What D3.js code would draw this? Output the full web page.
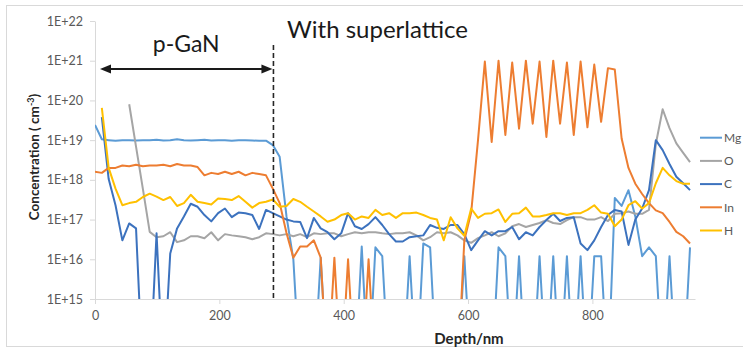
<!DOCTYPE html>
<html><head><meta charset="utf-8">
<script src="https://cdn.jsdelivr.net/npm/d3@7"></script>
<style>
html,body{margin:0;padding:0;background:#fff;}
svg{display:block;}
text{font-family:Lato,"Open Sans",sans-serif;}
</style></head><body>
<svg id="chart" width="743" height="360"></svg>
<script>
// SIMS depth profile of a p-GaN / InGaN superlattice structure (log concentration vs depth)

// depth sampling points (nm)
const depthNm = [0,11,22,33,44,55,66,77,88,99,110,121,132,143,154,165,176,187,198,209,
  220,231,242,253,264,275,286,297,308,319,330,341,352,363,374,385,396,407,418,429,
  440,451,462,473,484,495,506,517,528,539,550,561,572,583,594,605,616,627,638,649,
  660,671,682,693,704,715,726,737,748,759,770,781,792,803,814,825,836,847,858,869,
  880,891,902,913,924,935,946,957];

// concentrations (cm^-3); 1e13 marks points below the detection floor
const mgConc = [2.4e19,1.05e19,1.0e19,9.6e18,1.0e19,1.0e19,9.8e18,1.0e19,1.0e19,1.02e19,
  9.8e18,1.0e19,1.05e19,1.0e19,9.8e18,1.0e19,1.02e19,9.8e18,1.0e19,1.0e19,
  9.7e18,9.9e18,1.0e19,9.8e18,9.6e18,9.7e18,7.5e18,3.8e18,1.2e17,1.0e16,
  1e13,1e13,1e13,1.1e16,1e13,1e13,1e13,1e13,1e13,2.1e16,
  1e13,2e16,1.2e16,1e13,1e13,1e13,1.2e16,1e13,2.5e16,2e16,
  1e13,1e13,1e13,1e13,1.2e16,1e13,1e13,1e13,1e13,2e16,
  1.2e16,1e13,1.2e16,1e13,1e13,1.2e16,1e13,1.2e16,1e13,1.2e16,
  1e13,1.2e16,1e13,1.2e16,1.2e16,1e13,3.5e17,2.2e17,5.5e17,1.2e17,
  1.2e16,2e16,1.2e16,1e13,1.2e16,1e13,1e13,2e16];

const oConc = [null,null,null,null,null,8e19,6.9e18,5.9e17,4.9e16,3.6e16,
  3.8e16,4.8e16,2.7e16,3e16,3.8e16,3.8e16,3.4e16,4.8e16,3e16,4.3e16,
  4e16,3.8e16,3.6e16,3.2e16,3.6e16,4.5e16,4.3e16,4e16,4.3e16,3.8e16,
  4.3e16,3.6e16,4.5e16,4.3e16,4.5e16,4.5e16,3.8e16,4.3e16,4.8e16,4.5e16,
  4.8e16,4.8e16,4.5e16,4.3e16,4.5e16,4.5e16,4.8e16,4e16,3e16,3.6e16,
  4.8e16,4.5e16,4.8e16,4e16,3e16,2.6e16,3.4e16,4e16,4.8e16,3.8e16,
  4.5e16,6.8e16,7.7e16,6.5e16,7.3e16,8.2e16,9.7e16,8.2e16,7.7e16,9.7e16,
  1.15e17,1.15e17,1e17,1e17,1.15e17,9.2e16,1.4e17,1.45e17,1.6e17,1.4e17,
  1.4e17,1.75e17,8e18,6e19,2e19,8.3e18,4.8e18,2.8e18];

const cConc = [null,3.8e19,1.05e18,2.3e17,3e16,8e16,6e16,1e13,1e13,4.5e16,
  1e13,1.4e16,6e16,1.2e17,2.5e17,2.1e17,1.3e17,9e16,1.45e17,1.9e17,
  1.15e17,1.5e17,1.45e17,1.3e17,5.8e16,1.75e17,1.45e17,1.2e17,1e17,9e16,
  8.7e16,3.4e16,1.1e17,6e16,4.8e16,3.2e16,4.5e16,1.45e17,6.8e16,5.8e16,
  7.7e16,1.15e17,7.3e16,4.3e16,2.8e16,2.8e16,3.6e16,3.8e16,4e16,7.3e16,
  6.2e16,5.8e16,7.3e16,7.3e16,4.3e16,1.7e16,3e16,5.1e16,4e16,5.1e16,
  5.1e16,6.5e16,3.2e16,4.8e16,4e16,6.5e16,9.7e16,1.4e17,9.2e16,1.1e17,
  1.15e17,2.5e16,1.7e16,3e16,6.5e16,1.3e17,1.75e17,1.6e17,2.3e16,1e17,
  1.9e17,5.5e17,1e19,5.6e18,2.5e18,1.2e18,8.2e17,5.5e17];

const inConc = [1.6e18,1.5e18,2.0e18,2.0e18,2.3e18,2.2e18,2.4e18,2.2e18,2.3e18,2.3e18,
  2.4e18,2.2e18,2.5e18,2.3e18,2.3e18,2.1e18,1.3e18,1.5e18,1.4e18,1.6e18,
  1.4e18,1.6e18,1.3e18,1.5e18,1.4e18,1.3e18,6e17,2.6e17,4.6e16,1.1e16,
  2.1e16,2.1e16,3e16,1.1e16,1e13,1.1e16,1e13,1e16,1e13,1e13,
  1e16,1e13,1e13,1e13,1e13,1e13,1e13,1e13,1e13,1e13,
  1e13,1e13,1e13,1e13,3e16,1.5e17,1e19,9.5e20,9e18,1e21,
  1.35e19,9e20,1.95e19,1e21,2.6e19,9.5e20,1.2e19,1e21,2.6e19,9e20,
  1.35e19,9.5e20,2.1e19,8e20,2.9e19,6.5e20,6e20,1.1e19,2e18,8e17,
  4.4e17,2.6e17,1.7e17,1.45e17,8.7e16,4.9e16,3.8e16,2.5e16];

const hConc = [null,6.5e19,2e18,6e17,2.3e17,2.6e17,2.8e17,3.7e17,4.5e17,3.8e17,
  3.1e17,3.7e17,2.2e17,2.6e17,4.2e17,2.8e17,2.6e17,2.4e17,3.4e17,3.3e17,
  3.1e17,3.9e17,2.8e17,2e17,2.6e17,2.8e17,3.2e17,2.1e17,2.2e17,3.3e17,
  2.8e17,2.1e17,1.6e17,1.2e17,8.8e16,1e17,1.3e17,1.45e17,1e17,1.2e17,
  1.1e17,1.75e17,1.3e17,1.45e17,1.1e17,1.45e17,1.45e17,1.5e17,1.3e17,1.1e17,
  1e17,3e16,1.15e17,6e16,3.9e16,1.9e17,1.1e17,1.4e17,1.45e17,1.8e17,
  8.7e16,1.4e17,1.45e17,2e17,1.2e17,1.2e17,1.3e17,1.45e17,1.45e17,1.3e17,
  1.45e17,1.45e17,1.75e17,2.3e17,1.5e17,1.4e17,6.8e16,1e17,2.3e17,2.9e17,
  1.9e17,2.6e17,8.2e17,2e18,1.3e18,9.3e17,8e17,8e17];

const seriesNames = ["Mg","O","C","In","H"];
const seriesColors = ["#5B9BD5","#A5A5A5","#3C72BE","#ED7D31","#FFC000"];
const seriesValues = [mgConc,oConc,cConc,inConc,hConc];

const xTicks = [0,200,400,600,800];
const yTicks = [1e15,1e16,1e17,1e18,1e19,1e20,1e21,1e22];

// annotation depths (nm)
const pGaNStart = 8, pGaNEnd = 287;

const svg = d3.select("#chart");

// outer chart frame (runs past the right edge)
svg.append("rect").attr("x",6.5).attr("y",5.5).attr("width",745).attr("height",341)
  .attr("fill","none").attr("stroke","#d9d9d9").attr("stroke-width",1);

const x = d3.scaleLinear().domain([0,965]).range([95,695]);
const y = d3.scaleLog().domain([1e15,1e22]).range([299,21]);

// axes
const yAxis = svg.append("g").attr("transform","translate(95,0)")
  .call(d3.axisLeft(y).tickValues(yTicks).tickSize(5).tickSizeOuter(0).tickPadding(7)
    .tickFormat(d => "1E+" + Math.round(Math.log10(d))));
const xAxis = svg.append("g").attr("transform","translate(0,299)")
  .call(d3.axisBottom(x).tickValues(xTicks).tickSize(5).tickSizeOuter(0).tickPadding(7)
    .tickFormat(d3.format("d")));
[yAxis,xAxis].forEach(g => {
  g.select(".domain").attr("stroke","#d9d9d9");
  g.selectAll(".tick line").attr("stroke","#d9d9d9");
  g.selectAll(".tick text").attr("fill","#595959").style("font-size","12.5px")
    .style("font-family","Lato,'Open Sans',sans-serif");
});

// axis titles
svg.append("text").attr("x",469).attr("y",344).attr("text-anchor","middle")
  .style("font-size","15px").style("font-weight","bold").attr("fill","#262626")
  .text("Depth/nm");
const yt = svg.append("text").attr("transform","translate(39,157) rotate(-90)")
  .attr("text-anchor","middle").style("font-size","13.5px").style("font-weight","bold")
  .attr("fill","#262626");
yt.append("tspan").text("Concentration ( cm");
yt.append("tspan").attr("baseline-shift","super").style("font-size","9px").text("-3");
yt.append("tspan").text(")");

// data lines
svg.append("clipPath").attr("id","plotClip").append("rect")
  .attr("x",95).attr("y",21).attr("width",600).attr("height",278);
const line = d3.line()
  .defined(d => d[1] != null)
  .x(d => x(d[0])).y(d => y(d[1]));
const plot = svg.append("g").attr("clip-path","url(#plotClip)");
seriesValues.forEach((vals,k) => {
  plot.append("path")
    .datum(depthNm.map((dp,i) => [dp, vals[i]]))
    .attr("fill","none").attr("stroke",seriesColors[k])
    .attr("stroke-width",2).attr("stroke-linejoin","round")
    .attr("d",line);
});

// p-GaN annotation: dashed interface line and double arrow
svg.append("line").attr("x1",x(pGaNEnd)).attr("x2",x(pGaNEnd)).attr("y1",45).attr("y2",299)
  .attr("stroke","#262626").attr("stroke-width",1.6).attr("stroke-dasharray","5,3");
const ay = 69, ax1 = x(pGaNStart), ax2 = x(pGaNEnd) - 1;
svg.append("line").attr("x1",ax1+6).attr("x2",ax2-6).attr("y1",ay).attr("y2",ay)
  .attr("stroke","#1a1a1a").attr("stroke-width",2);
svg.append("path").attr("d",`M${ax1},${ay}L${ax1+11},${ay-4.5}L${ax1+11},${ay+4.5}Z`).attr("fill","#1a1a1a");
svg.append("path").attr("d",`M${ax2},${ay}L${ax2-11},${ay-4.5}L${ax2-11},${ay+4.5}Z`).attr("fill","#1a1a1a");
svg.append("text").attr("x",(ax1+ax2)/2).attr("y",52).attr("text-anchor","middle")
  .style("font-size","23px").attr("fill","#1a1a1a").text("p-GaN");
svg.append("text").attr("x",287).attr("y",38)
  .style("font-size","24px").attr("fill","#1a1a1a").text("With superlattice");

// legend
const lg = svg.append("g");
seriesNames.forEach((n,k) => {
  const ly = 137.7 + k*23.2;
  lg.append("line").attr("x1",700).attr("x2",722).attr("y1",ly).attr("y2",ly)
    .attr("stroke",seriesColors[k]).attr("stroke-width",2);
  lg.append("text").attr("x",724).attr("y",ly).attr("dy","0.35em")
    .style("font-size","12px").attr("fill","#595959").text(n);
});
</script></body></html>
